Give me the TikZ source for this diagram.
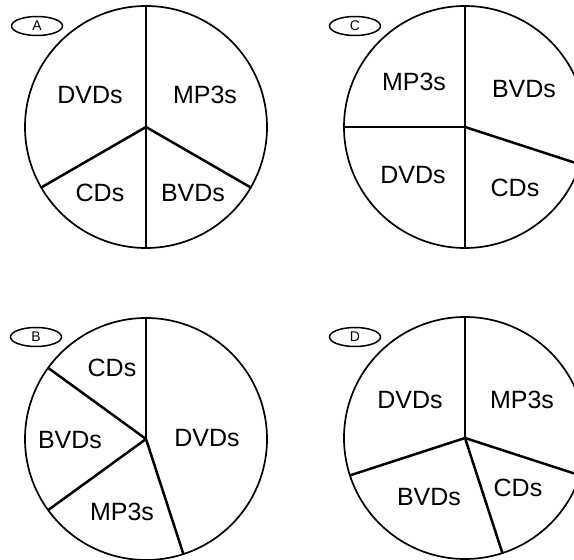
\documentclass[tikz,border=0pt]{standalone}
\usepackage{fontspec}
\setmainfont{Liberation Sans}
\usetikzlibrary{shapes.geometric}
\begin{document}
\begin{tikzpicture}[x=1pt,y=1pt,font=\fontsize{25}{28}\selectfont,
  rim/.style={line width=1.7pt},
  cut/.style={line width=2.5pt},
  tag/.style={draw,ellipse,line width=1.5pt,minimum width=51pt,minimum height=19pt,inner sep=0pt,font=\fontsize{14}{16}\selectfont}]
\pgfmathsetmacro{\r}{121}
\useasboundingbox (0,0) rectangle (574,560);
% centres of the four pies
\coordinate (A) at (146,433);
\coordinate (C) at (465,433);
\coordinate (B) at (146,121);
\coordinate (D) at (465,122);
% outlines and cuts
\foreach \p/\angles in {A/{90,210,270,330},C/{90,180,270,342},B/{90,144,216,288},D/{90,198,288,342}}{
  \draw[rim] (\p) circle (\r);
  \foreach \t in \angles \draw[cut] (\p) -- ++(\t:\r);
}
% letters
\node[tag] (tagA) at (37,534) {A};
\node[tag] (tagC) at (355,534) {C};
\node[tag] (tagB) at (36,223) {B};
\node[tag] (tagD) at (355,223) {D};
% pie A
\node (aDVD) at (90,465) {DVDs};
\node (aMP3) at (205,465) {MP3s};
\node (aCD) at (100,367) {CDs};
\node (aBVD) at (193,367) {BVDs};
% pie C
\node (cMP3) at (414,478) {MP3s};
\node (cBVD) at (524,471) {BVDs};
\node (cDVD) at (413,385) {DVDs};
\node (cCD) at (515,372) {CDs};
% pie B
\node (bCD) at (112,192) {CDs};
\node (bBVD) at (70,120) {BVDs};
\node (bDVD) at (207,122) {DVDs};
\node (bMP3) at (122,48) {MP3s};
% pie D
\node (dDVD) at (410,160) {DVDs};
\node (dMP3) at (522,160) {MP3s};
\node (dBVD) at (429,63) {BVDs};
\node (dCD) at (518,72) {CDs};
\end{tikzpicture}
\end{document}
